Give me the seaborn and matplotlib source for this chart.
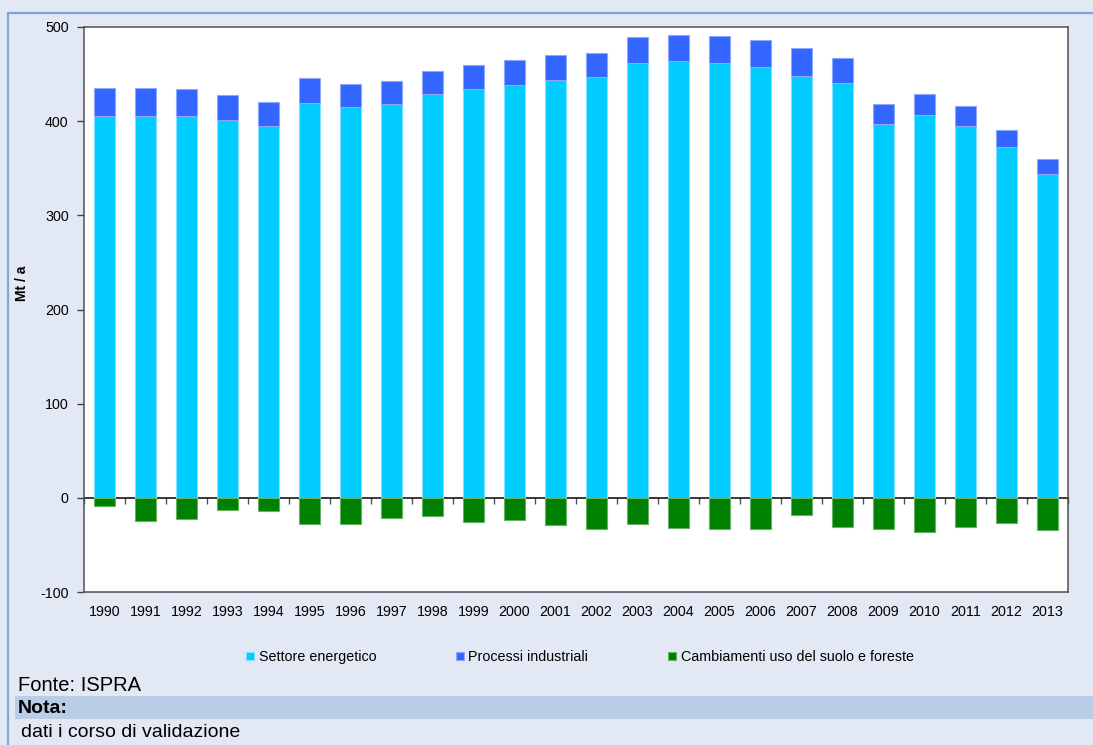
import numpy as np
import pandas as pd
import matplotlib
matplotlib.use("Agg")
import matplotlib.pyplot as plt
import seaborn as sns
from matplotlib.patches import Rectangle

# ---- data (Mt / a) ----
anni = [str(y) for y in range(1990, 2014)]
settore_energetico = [405.8, 406.0, 405.0, 401.2, 394.8, 419.0, 414.7, 418.2, 428.8, 434.1,
                      438.7, 443.9, 446.8, 461.4, 463.5, 461.4, 457.1, 448.3, 440.8, 397.0,
                      406.5, 394.5, 372.5, 343.8]
processi_industriali = [29.1, 29.0, 28.8, 26.5, 25.2, 26.8, 24.3, 24.4, 24.4, 25.1,
                        25.9, 26.3, 25.9, 27.6, 27.9, 29.0, 28.7, 29.0, 25.9, 21.2,
                        22.0, 21.5, 17.8, 16.3]
uso_suolo = [-8.7, -24.6, -22.3, -12.9, -14.3, -27.5, -27.5, -21.0, -19.6, -25.3,
             -23.2, -29.2, -33.0, -28.0, -32.5, -33.3, -33.3, -18.6, -31.0, -33.0,
             -36.3, -31.3, -26.9, -34.0]
serie = ["Settore energetico", "Processi industriali", "Cambiamenti uso del suolo e foreste"]
y_ticks = [-100, 0, 100, 200, 300, 400, 500]

sns.set_theme(style="ticks")
plt.rcParams["font.family"] = ["Liberation Sans", "DejaVu Sans"]
plt.rcParams["axes.unicode_minus"] = False
plt.rcParams["text.color"] = "black"
plt.rcParams["xtick.color"] = "black"
plt.rcParams["ytick.color"] = "black"

W, H = 1093, 745
fig = plt.figure(figsize=(W / 100, H / 100), dpi=100)
fig.patch.set_facecolor("#E2E9F5")

# outer light-blue frame and "Nota" band
fig.patches.append(Rectangle((7.5 / W, -0.05), 1.2, 1.05 - 12.5 / H, transform=fig.transFigure,
                             fill=False, edgecolor="#7FA6D6", linewidth=1.6, zorder=0))
fig.patches.append(Rectangle((15 / W, 1 - 719 / H), 1.0, 23 / H, transform=fig.transFigure,
                             facecolor="#B9CDE6", edgecolor="none", zorder=0))

ax = fig.add_axes([84 / W, 1 - 592 / H, (1068 - 84) / W, (592 - 27) / H])
ax.set_facecolor("white")

df = pd.DataFrame({"anno": anni, "en": settore_energetico,
                   "ind": processi_industriali, "suolo": uso_suolo})

bw = 0.5
sns.barplot(data=df, x="anno", y="en", color="#00CCFF", saturation=1, width=bw,
            edgecolor="#7FE3FF", linewidth=0.8, errorbar=None, ax=ax, label=serie[0])
sns.barplot(data=df, x="anno", y="ind", bottom=np.array(settore_energetico), color="#3366FF",
            saturation=1, width=bw, edgecolor="#8FA8FF", linewidth=0.8, errorbar=None,
            ax=ax, label=serie[1])
sns.barplot(data=df, x="anno", y="suolo", color="#008000", saturation=1, width=bw,
            edgecolor="#66B366", linewidth=0.8, errorbar=None, ax=ax, label=serie[2])

if ax.get_legend() is not None:
    ax.get_legend().remove()

ax.set_xlim(-0.5, len(anni) - 0.5)
ax.set_ylim(-100, 500)
ax.set_yticks(y_ticks)
ax.set_xlabel("")
ax.set_ylabel("")
ax.tick_params(axis="x", length=0, pad=9, labelsize=10.3, labelcolor="black")
ax.tick_params(axis="y", length=5, width=1, direction="out", pad=6, labelsize=10.3,
               color="#404040", labelcolor="black")
for s in ["left", "bottom", "top", "right"]:
    ax.spines[s].set_visible(True)
    ax.spines[s].set_color("#505050")
    ax.spines[s].set_linewidth(1.1)

# horizontal category axis crossing at zero
sec = ax.secondary_xaxis(100 / 600)
sec.set_xticks(np.arange(-0.5, len(anni), 1.0))
sec.tick_params(axis="x", bottom=True, top=False, labelbottom=False, labeltop=False,
                length=4, width=1, direction="out", color="#505050")
sec.spines["bottom"].set_color("black")
sec.spines["bottom"].set_linewidth(1.1)

fig.text(21.5 / W, 1 - 283 / H, "Mt / a", rotation=90, fontsize=10, fontweight="bold",
         ha="center", va="center", color="black")

handles, labels = ax.get_legend_handles_labels()
fig.legend(handles, labels, loc="center", bbox_to_anchor=(580 / W, 1 - 657 / H), ncol=3,
           frameon=False, fontsize=10.3, handlelength=0.55, handleheight=0.55,
           handletextpad=0.3, columnspacing=5.6, labelcolor="black")

fig.text(18 / W, 1 - 691 / H, "Fonte: ISPRA", fontsize=14.5, va="baseline", color="black")
fig.text(18 / W, 1 - 713 / H, "Nota:", fontsize=14, fontweight="bold", va="baseline",
         color="black")
fig.text(21 / W, 1 - 737 / H, "dati i corso di validazione", fontsize=14, va="baseline",
         color="black")

fig.savefig("out.png", dpi=100, facecolor=fig.get_facecolor())
